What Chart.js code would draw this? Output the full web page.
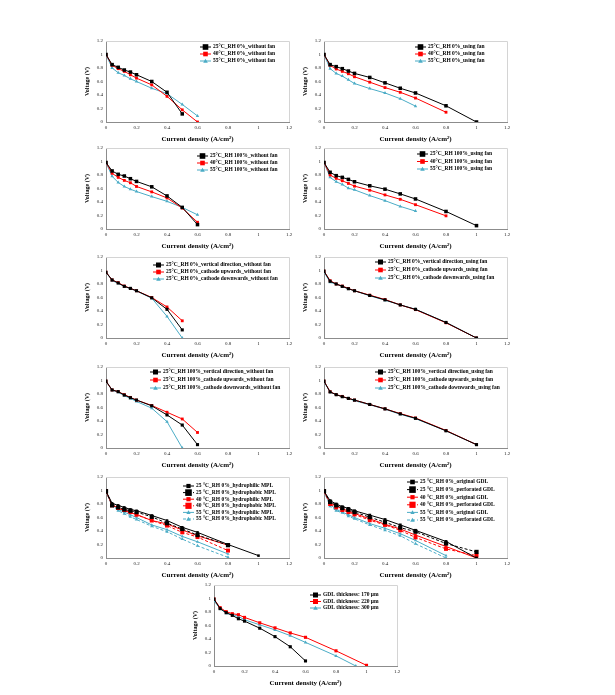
<!DOCTYPE html>
<html>
<head>
<meta charset="utf-8">
<script src="https://cdn.jsdelivr.net/npm/chart.js@4/dist/chart.umd.min.js"></script>
<style>
  body { margin: 0; background: #fff; }
  #wrap { position: relative; width: 615px; height: 695px; }
  canvas { position: absolute; }
</style>
</head>
<body>
<div id="wrap"></div>
<script>
// current density steps (A/cm2)
const iStd = [0, 0.04, 0.08, 0.12, 0.16, 0.2, 0.3, 0.4, 0.5, 0.6, 0.8, 1.0];
const iThick300 = [0, 0.04, 0.08, 0.12, 0.16, 0.2, 0.3, 0.4, 0.5, 0.6, 0.8, 0.93];
const axisTicks = ['0', '0.2', '0.4', '0.6', '0.8', '1', '1.2'];

// RH 0%, without fan
const v25_rh0_nofan = [1.0, 0.85, 0.81, 0.77, 0.74, 0.70, 0.60, 0.44, 0.12];
const v40_rh0_nofan = [1.0, 0.84, 0.79, 0.75, 0.70, 0.65, 0.55, 0.38, 0.18, 0.0];
const v55_rh0_nofan = [1.0, 0.80, 0.73, 0.69, 0.64, 0.60, 0.50, 0.42, 0.26, 0.09];
// RH 0%, using fan
const v25_rh0_fan = [1.0, 0.85, 0.82, 0.79, 0.755, 0.72, 0.66, 0.58, 0.50, 0.43, 0.24, 0.0];
const v40_rh0_fan = [1.0, 0.84, 0.785, 0.75, 0.715, 0.67, 0.59, 0.51, 0.44, 0.355, 0.145];
const v55_rh0_fan = [1.0, 0.79, 0.72, 0.68, 0.625, 0.57, 0.495, 0.43, 0.345, 0.235];
// RH 100%, without fan
const v25_rh100_nofan = [0.985, 0.86, 0.81, 0.785, 0.745, 0.705, 0.625, 0.49, 0.32, 0.065];
const v40_rh100_nofan = [0.985, 0.825, 0.765, 0.72, 0.685, 0.63, 0.55, 0.46, 0.31, 0.10];
const v55_rh100_nofan = [0.985, 0.78, 0.69, 0.63, 0.59, 0.555, 0.48, 0.41, 0.32, 0.21];
// RH 100%, using fan
const v25_rh100_fan = [0.985, 0.84, 0.79, 0.765, 0.735, 0.70, 0.64, 0.59, 0.52, 0.445, 0.26, 0.05];
const v40_rh100_fan = [0.985, 0.80, 0.75, 0.715, 0.675, 0.635, 0.575, 0.505, 0.44, 0.36, 0.195];
const v55_rh100_fan = [0.985, 0.765, 0.70, 0.66, 0.605, 0.58, 0.495, 0.42, 0.335, 0.265];
// orientation, RH 0%, without fan
const vVert_rh0_nofan = [0.975, 0.86, 0.815, 0.765, 0.735, 0.70, 0.595, 0.425, 0.12];
const vUp_rh0_nofan = [0.975, 0.86, 0.82, 0.77, 0.735, 0.70, 0.60, 0.46, 0.255];
const vDown_rh0_nofan = [0.975, 0.85, 0.81, 0.765, 0.73, 0.695, 0.59, 0.32, 0.0];
// orientation, RH 0%, using fan
const vVert_rh0_fan = [0.99, 0.84, 0.80, 0.765, 0.73, 0.70, 0.63, 0.565, 0.49, 0.425, 0.23, 0.0];
const vUp_rh0_fan = [0.99, 0.85, 0.80, 0.77, 0.735, 0.70, 0.635, 0.57, 0.49, 0.42, 0.225, 0.0];
const vDown_rh0_fan = [0.98, 0.825, 0.80, 0.76, 0.73, 0.70, 0.625, 0.56, 0.49, 0.425, 0.23, 0.0];
// orientation, RH 100%, without fan
const vVert_rh100_nofan = [0.99, 0.86, 0.835, 0.785, 0.745, 0.71, 0.625, 0.49, 0.34, 0.05];
const vUp_rh100_nofan = [0.99, 0.86, 0.835, 0.79, 0.75, 0.71, 0.63, 0.53, 0.43, 0.23];
const vDown_rh100_nofan = [0.99, 0.855, 0.825, 0.775, 0.735, 0.69, 0.59, 0.39, 0.0];
// orientation, RH 100%, using fan
const vVert_rh100_fan = [0.99, 0.83, 0.79, 0.76, 0.735, 0.71, 0.645, 0.58, 0.505, 0.44, 0.255, 0.05];
const vUp_rh100_fan = [0.99, 0.835, 0.79, 0.765, 0.735, 0.71, 0.645, 0.58, 0.51, 0.445, 0.26, 0.05];
const vDown_rh100_fan = [0.98, 0.83, 0.79, 0.76, 0.735, 0.70, 0.64, 0.575, 0.50, 0.435, 0.255, 0.05];
// MPL
const v25_philic = [0.99, 0.81, 0.78, 0.75, 0.72, 0.70, 0.63, 0.555, 0.455, 0.38, 0.20, 0.035];
const v25_phobic = [0.99, 0.78, 0.75, 0.72, 0.70, 0.68, 0.61, 0.515, 0.43, 0.34, 0.19];
const v40_philic = [0.99, 0.79, 0.74, 0.70, 0.67, 0.645, 0.555, 0.505, 0.415, 0.33, 0.19];
const v40_phobic = [0.99, 0.78, 0.74, 0.71, 0.68, 0.64, 0.555, 0.48, 0.38, 0.31, 0.11];
const v55_philic = [0.99, 0.79, 0.72, 0.68, 0.64, 0.60, 0.49, 0.42, 0.32, 0.24, 0.06];
const v55_phobic = [0.99, 0.77, 0.70, 0.655, 0.61, 0.57, 0.47, 0.39, 0.28, 0.18, 0.01];
// GDL
const v25_orig = [0.99, 0.85, 0.80, 0.76, 0.735, 0.70, 0.635, 0.57, 0.49, 0.41, 0.245, 0.0];
const v25_perf = [0.99, 0.83, 0.78, 0.74, 0.715, 0.68, 0.605, 0.53, 0.45, 0.39, 0.215, 0.09];
const v40_orig = [0.99, 0.815, 0.77, 0.73, 0.695, 0.66, 0.58, 0.50, 0.43, 0.34, 0.17, 0.0];
const v40_perf = [0.99, 0.80, 0.75, 0.71, 0.68, 0.645, 0.56, 0.49, 0.41, 0.305, 0.135, 0.035];
const v55_orig = [0.99, 0.79, 0.72, 0.68, 0.64, 0.60, 0.51, 0.44, 0.36, 0.26, 0.035];
const v55_perf = [0.99, 0.765, 0.70, 0.67, 0.62, 0.58, 0.49, 0.41, 0.33, 0.21, 0.0];
// GDL thickness
const vThick170 = [0.99, 0.85, 0.79, 0.75, 0.70, 0.665, 0.56, 0.435, 0.285, 0.075];
const vThick220 = [0.99, 0.865, 0.805, 0.775, 0.76, 0.72, 0.64, 0.565, 0.49, 0.425, 0.225, 0.01];
const vThick300 = [0.965, 0.85, 0.78, 0.76, 0.735, 0.685, 0.61, 0.535, 0.45, 0.35, 0.15, 0.0];

const BLACK = '#000000', RED = '#ff0000', CYAN = '#4bacc6';
const SERIF = '"Liberation Serif", "Times New Roman", serif';

function pts(xs, ys) {
  return ys.map((y, i) => ({ x: xs[i], y: y }));
}

function series(label, xs, ys, color, shape, size, dashed) {
  return {
    label: label,
    data: pts(xs, ys),
    borderColor: color,
    backgroundColor: color,
    borderWidth: 1,
    borderDash: dashed ? [3, 2] : [],
    pointStyle: shape,
    pointRadius: size,
    pointBorderWidth: 0,
    tension: 0,
  };
}

// draws the frame of the plot area and the legend box inside it
const framePlugin = {
  id: 'frame',
  beforeDatasetsDraw(chart) {
    const a = chart.chartArea, ctx = chart.ctx;
    ctx.save();
    ctx.strokeStyle = '#d4d4d4';
    ctx.lineWidth = 1;
    ctx.beginPath();
    ctx.moveTo(a.left, a.top + 0.5);
    ctx.lineTo(a.right + 0.5, a.top + 0.5);
    ctx.lineTo(a.right + 0.5, a.bottom);
    ctx.stroke();
    ctx.restore();
  },
  afterDraw(chart, args, opts) {
    const a = chart.chartArea, ctx = chart.ctx;
    ctx.save();
    ctx.font = 'bold 5.5px ' + SERIF;
    ctx.textBaseline = 'middle';
    chart.data.datasets.forEach((ds, i) => {
      const x = a.left + opts.dx, y = a.top + opts.dy + i * opts.gap;
      ctx.strokeStyle = ds.borderColor;
      ctx.fillStyle = ds.borderColor;
      ctx.lineWidth = 1;
      ctx.setLineDash(ds.borderDash);
      ctx.beginPath();
      ctx.moveTo(x, y);
      ctx.lineTo(x + 11, y);
      ctx.stroke();
      ctx.setLineDash([]);
      const r = ds.pointRadius + 0.3, cx = x + 5.5;
      if (ds.pointStyle === 'triangle') {
        ctx.beginPath();
        ctx.moveTo(cx, y - r);
        ctx.lineTo(cx + r, y + r * 0.8);
        ctx.lineTo(cx - r, y + r * 0.8);
        ctx.closePath();
        ctx.fill();
      } else {
        ctx.fillRect(cx - r, y - r, 2 * r, 2 * r);
      }
      ctx.fillStyle = '#000';
      ctx.fillText(ds.label, x + 13, y);
    });
    ctx.restore();
  }
};

function tickFmt(v) {
  return Number(v.toFixed(1)).toString();
}

const panels = [
  { L: 106, T: 41, lg: { dx: 94, dy: 6, gap: 7 }, ds: [
    series('25°C_RH 0%_without fan', iStd, v25_rh0_nofan, BLACK, 'rect', 2.5),
    series('40°C_RH 0%_without fan', iStd, v40_rh0_nofan, RED, 'rect', 2),
    series('55°C_RH 0%_without fan', iStd, v55_rh0_nofan, CYAN, 'triangle', 2)] },
  { L: 324, T: 41, lg: { dx: 91, dy: 6, gap: 7 }, ds: [
    series('25°C_RH 0%_using fan', iStd, v25_rh0_fan, BLACK, 'rect', 2.5),
    series('40°C_RH 0%_using fan', iStd, v40_rh0_fan, RED, 'rect', 2),
    series('55°C_RH 0%_using fan', iStd, v55_rh0_fan, CYAN, 'triangle', 2)] },
  { L: 106, T: 148, lg: { dx: 91, dy: 8, gap: 7 }, ds: [
    series('25°C_RH 100%_without fan', iStd, v25_rh100_nofan, BLACK, 'rect', 2.5),
    series('40°C_RH 100%_without fan', iStd, v40_rh100_nofan, RED, 'rect', 2),
    series('55°C_RH 100%_without fan', iStd, v55_rh100_nofan, CYAN, 'triangle', 2)] },
  { L: 324, T: 148, lg: { dx: 93, dy: 6, gap: 7.5 }, ds: [
    series('25°C_RH 100%_using fan', iStd, v25_rh100_fan, BLACK, 'rect', 2.5),
    series('40°C_RH 100%_using fan', iStd, v40_rh100_fan, RED, 'rect', 2),
    series('55°C_RH 100%_using fan', iStd, v55_rh100_fan, CYAN, 'triangle', 2)] },
  { L: 106, T: 257, lg: { dx: 47, dy: 8, gap: 7 }, ds: [
    series('25°C_RH 0%_vertical direction_without fan', iStd, vVert_rh0_nofan, BLACK, 'rect', 2.2),
    series('25°C_RH 0%_cathode upwards_without fan', iStd, vUp_rh0_nofan, RED, 'rect', 2),
    series('25°C_RH 0%_cathode downwards_without fan', iStd, vDown_rh0_nofan, CYAN, 'triangle', 2)] },
  { L: 324, T: 257, lg: { dx: 51, dy: 5, gap: 8 }, ds: [
    series('25°C_RH 0%_vertical direction_using fan', iStd, vVert_rh0_fan, BLACK, 'rect', 2.2),
    series('25°C_RH 0%_cathode upwards_using fan', iStd, vUp_rh0_fan, RED, 'rect', 2),
    series('25°C_RH 0%_cathode downwards_using fan', iStd, vDown_rh0_fan, CYAN, 'triangle', 2)] },
  { L: 106, T: 367, lg: { dx: 44, dy: 5, gap: 8 }, ds: [
    series('25°C_RH 100%_vertical direction_without fan', iStd, vVert_rh100_nofan, BLACK, 'rect', 2.2),
    series('25°C_RH 100%_cathode upwards_without fan', iStd, vUp_rh100_nofan, RED, 'rect', 2),
    series('25°C_RH 100%_cathode downwards_without fan', iStd, vDown_rh100_nofan, CYAN, 'triangle', 2)] },
  { L: 324, T: 367, lg: { dx: 51, dy: 5, gap: 8 }, ds: [
    series('25°C_RH 100%_vertical direction_using fan', iStd, vVert_rh100_fan, BLACK, 'rect', 2.2),
    series('25°C_RH 100%_cathode upwards_using fan', iStd, vUp_rh100_fan, RED, 'rect', 2),
    series('25°C_RH 100%_cathode downwards_using fan', iStd, vDown_rh100_fan, CYAN, 'triangle', 2)] },
  { L: 106, T: 477, lg: { dx: 77, dy: 9, gap: 6.6 }, ds: [
    series('25 °C_RH 0%_hydrophilic MPL', iStd, v25_philic, BLACK, 'rect', 1.8),
    series('25 °C_RH 0%_hydrophobic MPL', iStd, v25_phobic, BLACK, 'rect', 3, true),
    series('40 °C_RH 0%_hydrophilic MPL', iStd, v40_philic, RED, 'rect', 1.8),
    series('40 °C_RH 0%_hydrophobic MPL', iStd, v40_phobic, RED, 'rect', 2.8, true),
    series('55 °C_RH 0%_hydrophilic MPL', iStd, v55_philic, CYAN, 'triangle', 1.8),
    series('55 °C_RH 0%_hydrophobic MPL', iStd, v55_phobic, CYAN, 'triangle', 2, true)] },
  { L: 324, T: 477, lg: { dx: 83, dy: 5, gap: 7.6 }, ds: [
    series('25 °C_RH 0%_original GDL', iStd, v25_orig, BLACK, 'rect', 2),
    series('25 °C_RH 0%_perforated GDL', iStd, v25_perf, BLACK, 'rect', 3, true),
    series('40 °C_RH 0%_original GDL', iStd, v40_orig, RED, 'rect', 1.8),
    series('40 °C_RH 0%_perforated GDL', iStd, v40_perf, RED, 'rect', 2.8, true),
    series('55 °C_RH 0%_original GDL', iStd, v55_orig, CYAN, 'triangle', 1.8),
    series('55 °C_RH 0%_perforated GDL', iStd, v55_perf, CYAN, 'triangle', 2, true)] },
  { L: 214, T: 585, lg: { dx: 96, dy: 10, gap: 6.5 }, ds: [
    series('GDL thickness: 170 μm', iStd, vThick170, BLACK, 'rect', 2.2),
    series('GDL thickness: 220 μm', iStd, vThick220, RED, 'rect', 2.2),
    series('GDL thickness: 300 μm', iThick300, vThick300, CYAN, 'triangle', 2)] },
];

const wrap = document.getElementById('wrap');

panels.forEach((p) => {
  const cv = document.createElement('canvas');
  cv.width = 215;
  cv.height = 110;
  cv.style.left = (p.L - 22) + 'px';
  cv.style.top = (p.T - 8) + 'px';
  wrap.appendChild(cv);

  const tickOpts = {
    stepSize: 0.2,
    autoSkip: false,
    maxRotation: 0,
    color: '#222',
    padding: 3,
    font: { family: SERIF, size: 5 },
    callback: (v) => tickFmt(v),
  };

  new Chart(cv, {
    type: 'scatter',
    data: { datasets: p.ds },
    options: {
      responsive: false,
      animation: false,
      showLine: true,
      layout: { padding: { top: 8, right: 10, left: 0, bottom: 0 } },
      plugins: {
        legend: { display: false },
        tooltip: { enabled: false },
        frame: p.lg,
      },
      scales: {
        x: {
          type: 'linear', min: 0, max: 1.2,
          ticks: tickOpts,
          grid: { display: false, drawTicks: false },
          border: { color: '#8c8c8c' },
          title: { display: true, text: 'Current density (A/cm²)', color: '#000',
            font: { family: SERIF, size: 7, weight: 'bold' }, padding: { top: 1, bottom: 0 } },
          afterFit: (s) => { s.height = 21; },
        },
        y: {
          min: 0, max: 1.2,
          ticks: tickOpts,
          grid: { display: false, drawTicks: false },
          border: { color: '#8c8c8c' },
          title: { display: true, text: 'Voltage (V)', color: '#000',
            font: { family: SERIF, size: 6, weight: 'bold' }, padding: 0 },
          afterFit: (s) => { s.width = 22; },
        },
      },
    },
    plugins: [framePlugin],
  });
});
</script>
</body>
</html>
